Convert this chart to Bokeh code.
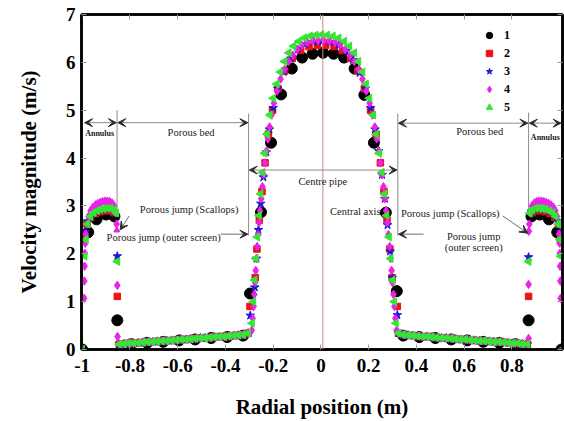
from bokeh.plotting import figure
from bokeh.models import (Range1d, FixedTicker, LinearAxis, Arrow, VeeHead, Label,
                          Span, Legend, LegendItem)
from bokeh.embed import file_html
from bokeh.resources import INLINE
import math

# ---------------- data ----------------
x_ticks = [-1, -0.8, -0.6, -0.4, -0.2, 0, 0.2, 0.4, 0.6, 0.8]
x_tick_labels = {-1: "-1", -0.8: "-0.8", -0.6: "-0.6", -0.4: "-0.4", -0.2: "-0.2",
                 0: "0", 0.2: "0.2", 0.4: "0.4", 0.6: "0.6", 0.8: "0.8"}
y_ticks = [0, 1, 2, 3, 4, 5, 6, 7]
series_names = ["1", "2", "3", "4", "5"]

# porous bed (shared profile for series 2-5)
bed_l_x = [-0.845, -0.825, -0.805, -0.785, -0.765, -0.745, -0.725, -0.705, -0.685, -0.665,
           -0.645, -0.625, -0.605, -0.585, -0.565, -0.545, -0.525, -0.505, -0.485, -0.465,
           -0.445, -0.425, -0.405, -0.385, -0.365, -0.345, -0.325, -0.305]
bed_l_y = [0.11, 0.12, 0.13, 0.13, 0.14, 0.15, 0.16, 0.16, 0.17, 0.18,
           0.18, 0.19, 0.20, 0.21, 0.21, 0.22, 0.23, 0.24, 0.24, 0.25,
           0.26, 0.27, 0.27, 0.28, 0.29, 0.30, 0.31, 0.34]
bed_r_x = [0.325, 0.345, 0.365, 0.385, 0.405, 0.425, 0.445, 0.465, 0.485, 0.505,
           0.525, 0.545, 0.565, 0.585, 0.605, 0.625, 0.645, 0.665, 0.685, 0.705,
           0.725, 0.745, 0.765, 0.785, 0.805, 0.825, 0.845, 0.865]
bed_r_y = [0.34, 0.31, 0.30, 0.29, 0.28, 0.27, 0.27, 0.26, 0.25, 0.24,
           0.24, 0.23, 0.22, 0.21, 0.21, 0.20, 0.19, 0.18, 0.18, 0.17,
           0.16, 0.16, 0.15, 0.14, 0.13, 0.13, 0.12, 0.11]

# series 1 (black circles)
s1_x = [-1.000, -0.975, -0.940, -0.900, -0.865, -0.853, -0.795, -0.728, -0.661, -0.594,
        -0.527, -0.460, -0.393, -0.326, -0.297, -0.251, -0.209, -0.167, -0.122, -0.079,
        -0.035, 0.009, 0.053, 0.097, 0.141, 0.182, 0.222, 0.272, 0.318, 0.345,
        0.412, 0.479, 0.546, 0.613, 0.680, 0.747, 0.814, 0.870, 0.882, 0.917,
        0.955, 0.990, 1.008]
s1_y = [0.00, 2.45, 2.72, 2.82, 2.78, 0.61, 0.11, 0.14, 0.16, 0.19,
        0.21, 0.24, 0.26, 0.29, 1.17, 2.87, 4.32, 5.33, 5.87, 6.10,
        6.18, 6.20, 6.18, 6.10, 5.87, 5.32, 4.32, 2.86, 1.22, 0.29,
        0.26, 0.24, 0.21, 0.19, 0.16, 0.14, 0.11, 0.61, 2.78, 2.82,
        2.72, 2.45, 0.00]

# series 2 (red squares)
s2_ann_l_x = [-0.990, -0.980, -0.965, -0.945, -0.925, -0.905, -0.885, -0.868, -0.853]
s2_ann_l_y = [2.30, 2.62, 2.76, 2.84, 2.88, 2.90, 2.90, 2.86, 1.11]
s2_c_x = [-0.297, -0.275, -0.268, -0.258, -0.247, -0.234, -0.220, -0.203, -0.180, -0.152,
          -0.120, -0.085, -0.050, -0.015, 0.020, 0.055, 0.090, 0.124, 0.155, 0.182,
          0.208, 0.231, 0.249, 0.264, 0.277, 0.289, 0.298, 0.320]
s2_c_y = [0.90, 1.50, 2.10, 2.70, 3.30, 3.90, 4.50, 5.00, 5.45, 5.82,
          6.08, 6.25, 6.33, 6.36, 6.36, 6.33, 6.25, 6.08, 5.82, 5.45,
          5.00, 4.50, 3.90, 3.30, 2.70, 2.10, 1.50, 0.90]
s2_ann_r_x = [0.870, 0.884, 0.900, 0.920, 0.940, 0.960, 0.980, 0.995, 1.003]
s2_ann_r_y = [1.11, 2.86, 2.90, 2.90, 2.88, 2.84, 2.76, 2.62, 2.30]

# series 3 (blue stars)
s3_ann_l_x = [-0.988, -0.978, -0.962, -0.942, -0.922, -0.902, -0.882, -0.866, -0.853]
s3_ann_l_y = [2.45, 2.68, 2.80, 2.88, 2.92, 2.94, 2.93, 2.88, 1.95]
s3_c_x = [-0.296, -0.277, -0.270, -0.262, -0.252, -0.241, -0.229, -0.216, -0.200, -0.181,
          -0.156, -0.126, -0.098, -0.066, -0.030, 0.005, 0.040, 0.075, 0.105, 0.135,
          0.162, 0.186, 0.208, 0.227, 0.242, 0.256, 0.268, 0.279, 0.290, 0.299, 0.320]
s3_c_y = [0.71, 1.30, 1.90, 2.50, 3.05, 3.60, 4.12, 4.60, 5.05, 5.45,
          5.80, 6.08, 6.27, 6.38, 6.43, 6.44, 6.42, 6.36, 6.24, 6.05,
          5.78, 5.45, 5.05, 4.60, 4.15, 3.65, 3.15, 2.60, 2.05, 1.50, 0.72]
s3_ann_r_x = [0.870, 0.882, 0.898, 0.918, 0.938, 0.958, 0.978, 0.994, 1.003]
s3_ann_r_y = [1.93, 2.88, 2.93, 2.94, 2.92, 2.88, 2.80, 2.68, 2.45]

# series 4 (magenta diamonds)
s4_ann_l_x = [-0.992, -0.991, -0.990, -0.989, -0.987, -0.985, -0.980, -0.973, -0.965, -0.955,
              -0.945, -0.935, -0.925, -0.915, -0.905, -0.895, -0.885, -0.875, -0.866, -0.859,
              -0.856, -0.855, -0.853, -0.852]
s4_ann_l_y = [1.07, 1.43, 1.74, 2.01, 2.22, 2.41, 2.62, 2.78, 2.90, 2.97,
              3.02, 3.05, 3.07, 3.09, 3.10, 3.10, 3.09, 3.06, 3.00, 2.85,
              2.62, 2.47, 1.34, 0.27]
s4_c_x = [-0.290, -0.286, -0.282, -0.279, -0.276, -0.273, -0.270, -0.267, -0.263, -0.259,
          -0.255, -0.250, -0.245, -0.240, -0.234, -0.228, -0.222, -0.215, -0.207, -0.197,
          -0.184, -0.169, -0.152, -0.135, -0.118, -0.100, -0.080, -0.058, -0.035, -0.012,
          0.012, 0.035, 0.058, 0.080, 0.102, 0.122, 0.140, 0.158, 0.174, 0.190,
          0.204, 0.216, 0.226, 0.234, 0.242, 0.249, 0.256, 0.262, 0.268, 0.273,
          0.278, 0.283, 0.288, 0.292, 0.296, 0.300, 0.304, 0.308, 0.312, 0.317]
s4_c_y = [0.40, 0.65, 0.90, 1.15, 1.40, 1.65, 1.90, 2.15, 2.40, 2.65,
          2.90, 3.15, 3.40, 3.65, 3.90, 4.15, 4.40, 4.65, 4.90, 5.15,
          5.40, 5.65, 5.85, 6.02, 6.15, 6.27, 6.36, 6.42, 6.45, 6.46,
          6.46, 6.45, 6.42, 6.36, 6.27, 6.15, 6.02, 5.85, 5.65, 5.40,
          5.15, 4.90, 4.65, 4.40, 4.15, 3.90, 3.65, 3.40, 3.15, 2.90,
          2.65, 2.40, 2.15, 1.90, 1.65, 1.40, 1.15, 0.90, 0.65, 0.40]
s4_ann_r_x = [0.870, 0.870, 0.871, 0.873, 0.877, 0.884, 0.894, 0.904, 0.914, 0.924,
              0.934, 0.944, 0.954, 0.964, 0.974, 0.982, 0.989, 0.994, 0.998, 1.000,
              1.001, 1.002, 1.003, 1.004]
s4_ann_r_y = [0.23, 1.36, 2.47, 2.62, 2.85, 3.00, 3.06, 3.09, 3.10, 3.10,
              3.09, 3.07, 3.05, 3.02, 2.97, 2.90, 2.78, 2.62, 2.41, 2.22,
              2.01, 1.74, 1.43, 1.07]

# series 5 (green triangles)
s5_ann_l_x = [-1.000, -0.990, -0.985, -0.978, -0.966, -0.952, -0.938, -0.924, -0.910, -0.896,
              -0.882, -0.868, -0.858, -0.853]
s5_ann_l_y = [0.00, 1.95, 2.30, 2.62, 2.78, 2.86, 2.90, 2.93, 2.94, 2.95,
              2.95, 2.92, 2.85, 1.84]
s5_c_x = [-0.289, -0.283, -0.278, -0.273, -0.267, -0.260, -0.253, -0.245, -0.236, -0.226,
          -0.214, -0.200, -0.185, -0.170, -0.153, -0.135, -0.115, -0.093, -0.070, -0.046,
          -0.022, 0.002, 0.026, 0.050, 0.074, 0.097, 0.119, 0.139, 0.157, 0.174,
          0.189, 0.203, 0.219, 0.231, 0.244, 0.255, 0.266, 0.275, 0.285, 0.292,
          0.300, 0.307, 0.314]
s5_c_y = [0.55, 1.00, 1.45, 1.90, 2.35, 2.80, 3.25, 3.70, 4.10, 4.50,
          4.90, 5.25, 5.55, 5.80, 6.02, 6.20, 6.34, 6.44, 6.51, 6.55,
          6.57, 6.58, 6.57, 6.55, 6.51, 6.44, 6.34, 6.20, 6.02, 5.80,
          5.55, 5.25, 4.90, 4.50, 4.10, 3.70, 3.25, 2.80, 2.35, 1.90,
          1.45, 1.00, 0.55]
s5_ann_r_x = [0.870, 0.875, 0.885, 0.899, 0.913, 0.927, 0.941, 0.955, 0.969, 0.983,
              0.994, 1.000, 1.004, 1.008]
s5_ann_r_y = [1.84, 2.85, 2.92, 2.95, 2.95, 2.94, 2.93, 2.90, 2.86, 2.78,
              2.62, 2.30, 1.95, 0.00]

# ---------------- figure ----------------
SERIF = "Liberation Serif"
p = figure(width=564, height=421, x_range=Range1d(-1.003, 1.012), y_range=Range1d(0, 7),
           output_backend="svg", toolbar_location=None,
           min_border_left=81, min_border_right=2, min_border_top=14, min_border_bottom=72)
p.xgrid.visible = False
p.ygrid.visible = False
p.outline_line_color = "black"
p.outline_line_width = 2.5
p.background_fill_color = "white"
p.border_fill_color = "white"

for ax in p.xaxis:
    ax.ticker = FixedTicker(ticks=x_ticks)
    ax.major_label_overrides = x_tick_labels
for ax in p.yaxis:
    ax.ticker = FixedTicker(ticks=y_ticks)
for ax in list(p.xaxis) + list(p.yaxis):
    ax.major_label_text_font = SERIF
    ax.major_label_text_font_style = "bold"
    ax.major_label_text_font_size = "19px"
    ax.major_label_text_color = "black"
    ax.axis_label_text_font = SERIF
    ax.axis_label_text_font_style = "bold"
    ax.axis_label_text_font_size = "21px"
    ax.axis_label_text_color = "black"
    ax.axis_line_color = "black"
    ax.axis_line_width = 2.5
    ax.major_tick_in = 5
    ax.major_tick_out = 0
    ax.major_tick_line_color = "#9a9a9a"
    ax.minor_tick_line_color = None
p.xaxis.major_label_standoff = 9
p.yaxis.major_label_standoff = 6
p.xaxis.axis_label = "Radial position (m)"
p.yaxis.axis_label = "Velocity magnitude (m/s)"
p.xaxis.axis_label_standoff = 20
p.yaxis.axis_label_standoff = 22

top_ax = LinearAxis(ticker=FixedTicker(ticks=x_ticks),
                    major_label_overrides={t: "" for t in x_ticks},
                    major_tick_in=5, major_tick_out=0, major_tick_line_color="#9a9a9a",
                    minor_tick_line_color=None, axis_line_color="black", axis_line_width=2.5,
                    major_label_standoff=0)
right_ax = LinearAxis(ticker=FixedTicker(ticks=y_ticks),
                      major_label_overrides={t: "" for t in y_ticks},
                      major_tick_in=5, major_tick_out=0, major_tick_line_color="#9a9a9a",
                      minor_tick_line_color=None, axis_line_color="black", axis_line_width=2.5,
                      major_label_standoff=0)
p.add_layout(top_ax, "above")
p.add_layout(right_ax, "right")

# central axis line
p.add_layout(Span(location=0.008, dimension="height", line_color="#c98a80", line_width=1))

# ---------------- annotations ----------------
GREY = "#8c8c8c"
p.segment(x0=[-0.854, -0.303, 0.322, 0.870], y0=[5.0, 4.93, 4.93, 4.95],
          x1=[-0.854, -0.303, 0.322, 0.870], y1=[2.85, 2.38, 2.38, 2.85],
          line_color=GREY, line_width=1)

def head():
    return VeeHead(size=8, fill_color="#2b2b2b", line_color="#2b2b2b", line_width=1)

double_arrows = [(-0.990, 4.74, -0.857, 4.74), (-0.851, 4.74, -0.306, 4.74),
                 (-0.300, 3.75, 0.319, 3.75), (0.325, 4.73, 0.867, 4.73),
                 (0.873, 4.73, 1.006, 4.73)]
for xs, ys, xe, ye in double_arrows:
    p.add_layout(Arrow(x_start=xs, y_start=ys, x_end=xe, y_end=ye, start=head(), end=head(),
                       line_color=GREY, line_width=1))
single_arrows = [(-0.80, 2.41, -0.306, 2.41), (0.43, 2.41, 0.325, 2.41),
                 (-0.803, 2.79, -0.841, 2.50), (0.762, 2.79, 0.866, 2.43)]
for xs, ys, xe, ye in single_arrows:
    p.add_layout(Arrow(x_start=xs, y_start=ys, x_end=xe, y_end=ye, end=head(),
                       line_color="#6e6e6e", line_width=1))

def label(x, y, text, size="10.5px", bold=False, bg=None):
    lab = Label(x=x, y=y, text=text, text_font=SERIF, text_font_size=size,
                text_font_style="bold" if bold else "normal", text_color="#1a1a1a",
                text_align="center", text_baseline="middle")
    if bg:
        lab.background_fill_color = bg
    p.add_layout(lab)

label(-0.927, 4.51, "Annulus", size="8px", bold=True)
label(-0.544, 4.53, "Porous bed")
label(0.008, 3.52, "Centre pipe")
label(0.665, 4.55, "Porous bed")
label(0.940, 4.43, "Annulus", size="8px", bold=True)
label(-0.552, 2.93, "Porous jump (Scallops)")
label(-0.659, 2.33, "Porous jump (outer screen)", bg="white")
label(0.144, 2.89, "Central axis")
label(0.542, 2.85, "Porous jump (Scallops)")
label(0.640, 2.37, "Porous jump", bg="white")
label(0.640, 2.14, "(outer screen)", bg="white")

# ---------------- series ----------------
x2 = s2_ann_l_x + bed_l_x + s2_c_x + bed_r_x + s2_ann_r_x
y2 = s2_ann_l_y + bed_l_y + s2_c_y + bed_r_y + s2_ann_r_y
x3 = s3_ann_l_x + bed_l_x + s3_c_x + bed_r_x + s3_ann_r_x
y3 = s3_ann_l_y + bed_l_y + s3_c_y + bed_r_y + s3_ann_r_y
x4 = s4_ann_l_x + bed_l_x + s4_c_x + bed_r_x + s4_ann_r_x
y4 = s4_ann_l_y + bed_l_y + s4_c_y + bed_r_y + s4_ann_r_y
x5 = s5_ann_l_x + bed_l_x + s5_c_x + bed_r_x + s5_ann_r_x
y5 = s5_ann_l_y + bed_l_y + s5_c_y + bed_r_y + s5_ann_r_y

r1 = p.scatter(s1_x, s1_y, marker="circle", size=11, fill_color="black", line_color="black")
r2 = p.scatter(x2, y2, marker="square", size=6.5, fill_color="#ee1111", line_color="#ee1111")
r3 = p.scatter(x3, y3, marker="star", size=9, fill_color="#1a1ad6", line_color="#1a1ad6")
r4 = p.scatter(x4, y4, marker="diamond", size=8.5, fill_color="#ea22ea", line_color="#ea22ea")
r5 = p.scatter(x5, y5, marker="triangle", size=8, angle=math.pi / 2,
               fill_color="#33e633", line_color="#33e633")

legend = Legend(items=[LegendItem(label=n, renderers=[r]) for n, r in
                       zip(series_names, [r1, r2, r3, r4, r5])],
                location=(396, 229), orientation="vertical",
                label_text_font=SERIF, label_text_font_style="bold",
                label_text_font_size="12px", label_text_color="black",
                glyph_width=16, glyph_height=18, label_height=18, label_standoff=7,
                spacing=0, padding=4, margin=0,
                background_fill_alpha=0, border_line_alpha=0)
p.add_layout(legend, "center")

open("out.html", "w").write(file_html(p, INLINE))
